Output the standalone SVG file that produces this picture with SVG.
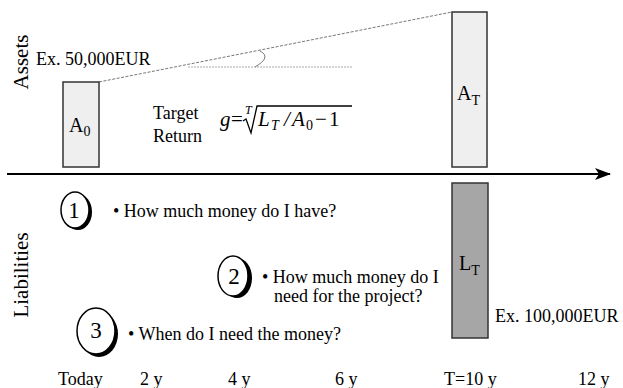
<svg xmlns="http://www.w3.org/2000/svg" width="623" height="388" viewBox="0 0 623 388">
<style>
text{font-family:"Liberation Serif","Times New Roman",serif;fill:#000}
.t{font-size:18px}
.side{font-size:21px}
.num{font-size:23px}
.box{stroke:#333;stroke-width:1.5}
.circ{fill:#fff;stroke:#000;stroke-width:1.5}
.sh{fill:#000}
.m{font-size:21px;font-style:italic}
.mr{font-size:21px}
.ms{font-size:14px}
.bl{font-size:20px}
.bs{font-size:14px}
</style>
<defs>
<marker id="ah" viewBox="0 0 16 12" refX="15" refY="6" markerWidth="16" markerHeight="12" markerUnits="userSpaceOnUse" orient="auto">
<path d="M0,0 L16,6 L0,12 L4,6 Z" fill="#000"/>
</marker>
</defs>
<g id="connectors">
<line x1="7" y1="174" x2="610" y2="174" stroke="#000" stroke-width="2" marker-end="url(#ah)"/>
<line x1="99" y1="82" x2="452" y2="12" stroke="#777" stroke-width="1" stroke-dasharray="3,1.5"/>
<line x1="188" y1="67" x2="352" y2="67" stroke="#aaa" stroke-width="1.2" stroke-dasharray="2,1"/>
<path d="M260,51 Q272,57 255,67" fill="none" stroke="#777" stroke-width="1"/>
</g>
<g id="labels">
<text class="side" transform="translate(28,62) rotate(-90)" text-anchor="middle">Assets</text>
<text class="side" transform="translate(28,275) rotate(-90)" text-anchor="middle">Liabilities</text>
<text class="t" x="36" y="65">Ex. 50,000EUR</text>
<text class="t" x="495" y="322">Ex. 100,000EUR</text>
<text class="t" x="153" y="119">Target</text>
<text class="t" x="153" y="142">Return</text>
</g>
<g id="formula">
<text x="220" y="126" class="m">g</text>
<text x="231" y="126" class="mr">=</text>
<text x="245" y="114" font-size="12" font-style="italic">T</text>
<path d="M243,121 L246,119 L251,133 L257,106 L352,106" fill="none" stroke="#000" stroke-width="1.3"/>
<text x="258" y="126" class="m">L</text>
<text x="271" y="130" class="ms" font-style="italic">T</text>
<text x="284" y="126" class="mr" font-style="italic">/</text>
<text x="292" y="126" class="m">A</text>
<text x="306" y="130" class="ms">0</text>
<text x="315" y="126" class="mr">−</text>
<text x="329" y="126" class="mr">1</text>
</g>
<g id="A0">
<rect class="box" x="63" y="82" width="36" height="85" fill="#efefef"/>
<text x="69" y="132" class="bl">A<tspan class="bs" dy="4">0</tspan></text>
</g>
<g id="AT">
<rect class="box" x="452" y="12" width="35" height="155" fill="#efefef"/>
<text x="457" y="100" class="bl">A<tspan class="bs" dy="5">T</tspan></text>
</g>
<g id="LT">
<rect class="box" x="452" y="183" width="36" height="155" fill="#a6a6a6"/>
<text x="459" y="270" class="bl">L<tspan class="bs" dy="5">T</tspan></text>
</g>
<g id="q1">
<ellipse class="sh" cx="78" cy="212" rx="14" ry="18"/>
<ellipse class="circ" cx="75" cy="210" rx="14" ry="18"/>
<text x="74" y="218" class="num" text-anchor="middle">1</text>
<text class="t" x="113" y="217">• How much money do I have?</text>
</g>
<g id="q2">
<ellipse class="sh" cx="237" cy="278" rx="15" ry="20"/>
<ellipse class="circ" cx="233" cy="276" rx="15" ry="20"/>
<text x="234" y="284" class="num" text-anchor="middle">2</text>
<text class="t" x="262" y="283">• How much money do I</text>
<text class="t" x="274" y="302">need for the project?</text>
</g>
<g id="q3">
<ellipse class="sh" cx="99" cy="334" rx="19" ry="23"/>
<ellipse class="circ" cx="96" cy="331" rx="19" ry="23"/>
<text x="96" y="338" class="num" text-anchor="middle">3</text>
<text class="t" x="128" y="340">• When do I need the money?</text>
</g>
<g id="axis-labels">
<text class="t" x="58" y="385">Today</text>
<text class="t" x="140" y="385">2 y</text>
<text class="t" x="228" y="385">4 y</text>
<text class="t" x="335" y="385">6 y</text>
<text class="t" x="444" y="385">T=10 y</text>
<text class="t" x="578" y="385">12 y</text>
</g>
</svg>
